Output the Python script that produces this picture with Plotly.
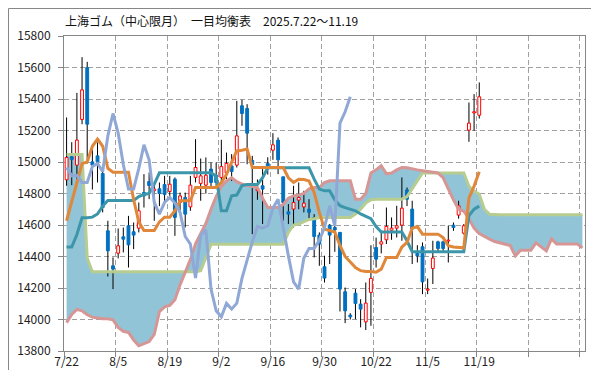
import plotly.graph_objects as go

# ---------------- data ----------------
tick_labels = ['7/22', '8/5', '8/19', '9/2', '9/16', '9/30', '10/22', '11/5', '11/19']
label_index = [0, 10, 20, 30, 40, 50, 60, 70, 80]

opens = [14887, 15033, 14980, 15270, 15600, 15001, 15039, 14927, 14563, 14341,
         14421, 14525, 14595, 14557, 14580, 14806, 14876, 14818, 14830, 14857,
         14813, 14891, 14743, 14775, 14715, 14902, 14864, 14853, 14955, 14916,
         14902, 14931, 14975, 14980, 15357, 15340, 15010, 14818, 14849, 14990,
         15075, 15139, 14906, 14684, 14701, 14758, 14715, 14701, 14648, 14536,
         14335, 14599, 14584, 14553, 14176, 14028, 14167, 14098, 13985, 14172,
         14457, 14479, 14506, 14567, 14580, 14599, 14823, 14701, 14425, 14462,
         14186, 14324, 14493, 14493, 14498, 14599, 14663, 14548, 15202, 15312,
         15297]
highs = [15283, 15126, 15439, 15666, 15636, 15085, 15124, 14955, 14627, 14394,
         14578, 14584, 14658, 14616, 14743, 14923, 14933, 14870, 14870, 14912,
         14912, 14902, 14806, 14806, 14912, 15145, 15022, 15029, 14997, 14997,
         15141, 15060, 15050, 15388, 15395, 15367, 15039, 14889, 14955, 15030,
         15183, 15156, 14906, 14733, 14849, 14870, 14817, 14764, 14669, 14553,
         14405, 14606, 14595, 14553, 14203, 14040, 14193, 14129, 14235, 14472,
         14520, 14563, 14711, 14648, 14722, 14902, 14838, 14754, 14472, 14489,
         14260, 14500, 14500, 14500, 14595, 14616, 14754, 14606, 15378, 15431,
         15505]
lows = [14849, 14853, 14880, 15240, 14990, 14825, 14870, 14680, 14273, 14193,
        14388, 14426, 14330, 14447, 14553, 14711, 14764, 14627, 14720, 14740,
        14764, 14531, 14690, 14584, 14690, 14870, 14754, 14800, 14830, 14828,
        14870, 14891, 14880, 14965, 15230, 14986, 14542, 14760, 14606, 14920,
        15014, 14923, 14627, 14606, 14584, 14700, 14680, 14627, 14394, 14341,
        14235, 14352, 14430, 14051, 13977, 14000, 14002, 13950, 13933, 13960,
        14330, 14420, 14479, 14506, 14521, 14500, 14720, 14352, 14362, 14161,
        14161, 14225, 14430, 14425, 14362, 14563, 14640, 14540, 15128, 15198,
        15276]
closes = [15029, 15016, 15139, 15458, 15240, 14980, 15001, 14711, 14436, 14320,
          14468, 14510, 14474, 14536, 14690, 14785, 14851, 14828, 14800, 14794,
          14859, 14648, 14785, 14669, 14853, 14965, 14912, 14916, 14870, 14870,
          14971, 14991, 14940, 15166, 15308, 15183, 14984, 14828, 14828, 14960,
          15109, 15014, 14743, 14669, 14743, 14775, 14739, 14680, 14527, 14479,
          14263, 14536, 14569, 14193, 14055, 14017, 14102, 14066, 14104, 14261,
          14383, 14493, 14591, 14580, 14595, 14707, 14764, 14574, 14404, 14239,
          14193, 14390, 14451, 14451, 14504, 14584, 14722, 14595, 15247, 15319,
          15414]

tenkan = [14627, 14750, 14870, 14990, 15000, 15100, 15145, 15100, 14960, 14935,
          14935, 14935, 14935, 14760, 14620, 14565, 14565, 14565, 14620, 14650,
          14650, 14690, 14754, 14754, 14754, 14838, 14838, 14838, 14838, 14838,
          14870, 14920, 15000, 15070, 15075, 15082, 14965, 14965, 14965, 14965,
          14965, 14969, 14965, 14900, 14870, 14891, 14889, 14880, 14806, 14680,
          14574, 14565, 14555, 14470, 14400, 14365, 14330, 14310, 14305, 14305,
          14300, 14320, 14394, 14394, 14394, 14460, 14489, 14580, 14590, 14542,
          14542, 14542, 14542, 14520, 14468, 14460, 14457, 14455, 14770, 14847,
          14938]
kijun = [14460, 14460, 14540, 14646, 14646, 14650, 14670, 14720, 14756, 14756,
         14756, 14756, 14756, 14756, 14780, 14794, 14800, 14860, 14931, 14931,
         14931, 14931, 14931, 14931, 14931, 14931, 14931, 14931, 14931, 14910,
         14690, 14690, 14785, 14790, 14850, 14857, 14857, 14857, 14900, 14963,
         14963, 14963, 14963, 14963, 14963, 14963, 14963, 14963, 14891, 14828,
         14817, 14817, 14760, 14722, 14710, 14701, 14690, 14670, 14655, 14640,
         14590, 14555, 14555, 14555, 14555, 14555, 14500, 14430, 14430, 14430,
         14430, 14430, 14430, 14430, 14430, 14430, 14430, 14430, 14660, 14700,
         14720]
chikou = [14965, 14912, 14916, 14870, 14870, 14971, 14991, 14940, 15166, 15308,
          15183, 14984, 14828, 14828, 14960, 15109, 15014, 14743, 14669, 14743,
          14775, 14739, 14680, 14527, 14479, 14263, 14536, 14569, 14193, 14055,
          14017, 14102, 14066, 14104, 14261, 14383, 14493, 14591, 14580, 14595,
          14707, 14764, 14574, 14404, 14239, 14193, 14390, 14451, 14451, 14504,
          14584, 14722, 14595, 15247, 15319, 15414]
senkou_a = [15048, 15048, 15048, 15048, 14389, 14303, 14303, 14303, 14303, 14303,
            14303, 14303, 14303, 14303, 14303, 14303, 14303, 14303, 14303, 14303,
            14303, 14303, 14303, 14303, 14303, 14303, 14310, 14400, 14477, 14477,
            14477, 14477, 14477, 14477, 14477, 14477, 14477, 14477, 14477, 14477,
            14477, 14477, 14477, 14553, 14600, 14606, 14620, 14635, 14640, 14648,
            14648, 14648, 14648, 14648, 14648, 14648, 14670, 14700, 14740, 14760,
            14764, 14764, 14764, 14764, 14764, 14764, 14780, 14830, 14880, 14930,
            14930, 14930, 14930, 14930, 14930, 14930, 14930, 14930, 14845, 14815,
            14795, 14700, 14668, 14665, 14665, 14665, 14665, 14665, 14665, 14665,
            14665, 14665, 14665, 14665, 14665, 14665, 14665, 14665, 14665, 14665,
            14665]
senkou_b = [13980, 14032, 14064, 14055, 14030, 14015, 14010, 14005, 14005, 13998,
            13950, 13925, 13918, 13870, 13833, 13845, 13860, 13905, 14050, 14080,
            14090, 14125, 14220, 14300, 14380, 14480, 14550, 14610, 14700, 14780,
            14845, 14880, 14900, 14875, 14860, 14850, 14845, 14838, 14770, 14711,
            14711, 14711, 14730, 14770, 14785, 14790, 14800, 14830, 14838, 14838,
            14870, 14881, 14881, 14881, 14881, 14881, 14764, 14764, 14800, 14930,
            14950, 14976, 14925, 14930, 14950, 14965, 14963, 14955, 14950, 14945,
            14940, 14935, 14930, 14900, 14826, 14760, 14700, 14688, 14640, 14580,
            14545, 14525, 14510, 14495, 14485, 14476, 14470, 14404, 14440, 14440,
            14440, 14487, 14460, 14436, 14512, 14480, 14480, 14480, 14480, 14480,
            14455]

# ---------------- figure ----------------
idx = list(range(len(closes)))
idx_cloud = list(range(len(senkou_a)))
idx_chikou = list(range(len(chikou)))

C_UP = '#FF0000'
C_DOWN = '#0070C0'
C_CLOUD = '#92C4D7'
C_TENKAN = '#E0873A'
C_KIJUN = '#3A96A8'
C_CHIKOU = '#90A8D6'
C_SA = '#B6CD8F'
C_SB = '#D59695'
GRID = '#A0A0A0'
AXIS = '#878787'
FONT = 'Noto Sans CJK JP'

fig = go.Figure()

# cloud (main subplot, lowest)
fig.add_trace(go.Scatter(x=idx_cloud, y=senkou_b, mode='lines', line=dict(width=0, color=C_SB),
                         hoverinfo='skip', showlegend=False))
fig.add_trace(go.Scatter(x=idx_cloud, y=senkou_a, mode='lines', line=dict(width=0, color=C_SA),
                         fill='tonexty', fillcolor=C_CLOUD, hoverinfo='skip', showlegend=False))

# wicks
wx, wy = [], []
for i, h, l in zip(idx, highs, lows):
    wx += [i, i, None]
    wy += [l, h, None]
fig.add_trace(go.Scatter(x=wx, y=wy, mode='lines', line=dict(width=1, color='#000000'),
                         hoverinfo='skip', showlegend=False))

# bodies (overlay subplot so they sit above the cloud)
up = [c >= o for o, c in zip(opens, closes)]
fig.add_trace(go.Bar(x=idx, y=[c - o for o, c in zip(opens, closes)], base=opens,
                     width=0.55,
                     marker=dict(color=['#FFFFFF' if u else C_DOWN for u in up],
                                 line=dict(color=[C_UP if u else C_DOWN for u in up], width=1)),
                     xaxis='x2', yaxis='y2', showlegend=False, hoverinfo='skip'))

# indicator lines
for ys, xs, col in [(senkou_a, idx_cloud, C_SA), (senkou_b, idx_cloud, C_SB),
                    (kijun, idx, C_KIJUN), (tenkan, idx, C_TENKAN), (chikou, idx_chikou, C_CHIKOU)]:
    fig.add_trace(go.Scatter(x=xs, y=ys, mode='lines', line=dict(width=3, color=col),
                             xaxis='x2', yaxis='y2', showlegend=False, hoverinfo='skip'))

XR = [-0.5, 100.5]
YR = [13800, 15800]
L, R, T, B = 56, 22, 28, 27
W, H = 599, 370
pw, ph = W - L - R, H - T - B

fig.update_layout(
    width=W, height=H,
    margin=dict(l=L, r=R, t=T, b=B, pad=0, autoexpand=False),
    paper_bgcolor='white', plot_bgcolor='white',
    font=dict(family=FONT, size=12, color='#222222'),
    showlegend=False,
    barmode='overlay',
    title=dict(text='上海ゴム（中心限月）　一目均衡表　2025.7.22～11.19',
               x=57 / W, xanchor='left', xref='container',
               y=1 - 14 / H, yanchor='middle', yref='container',
               font=dict(family=FONT, size=12, color='#111111')),
    xaxis=dict(range=XR, tickmode='array', tickvals=label_index, ticktext=tick_labels,
               showgrid=False, zeroline=False, ticks='', showline=True, linecolor=AXIS,
               linewidth=1, mirror=True, tickfont=dict(size=12), automargin=False,
               minor=dict(tick0=-0.5, dtick=10, showgrid=True, gridcolor=GRID, griddash='5px,3px',
                          gridwidth=1, ticks='outside', ticklen=5, tickcolor=AXIS)),
    yaxis=dict(range=YR, tick0=13800, dtick=200, tickformat='d', showgrid=True, gridcolor=GRID,
               griddash='5px,3px', gridwidth=1, zeroline=False, ticks='outside', ticklen=5,
               tickcolor=AXIS, showline=True, linecolor=AXIS, linewidth=1, mirror=True,
               tickfont=dict(size=12), ticklabelstandoff=5, automargin=False),
    xaxis2=dict(range=XR, overlaying='x', visible=False, showgrid=False, zeroline=False),
    yaxis2=dict(range=YR, overlaying='y', visible=False, showgrid=False, zeroline=False),
    shapes=[dict(type='rect', xref='paper', yref='paper',
                 x0=(0.5 - L) / pw, x1=(W - 1.5 - L) / pw,
                 y0=-(B - 1.5) / ph, y1=1 + (T - 0.5) / ph,
                 line=dict(color=AXIS, width=1), fillcolor='rgba(0,0,0,0)', layer='above')],
)

fig.write_html('out.html')
